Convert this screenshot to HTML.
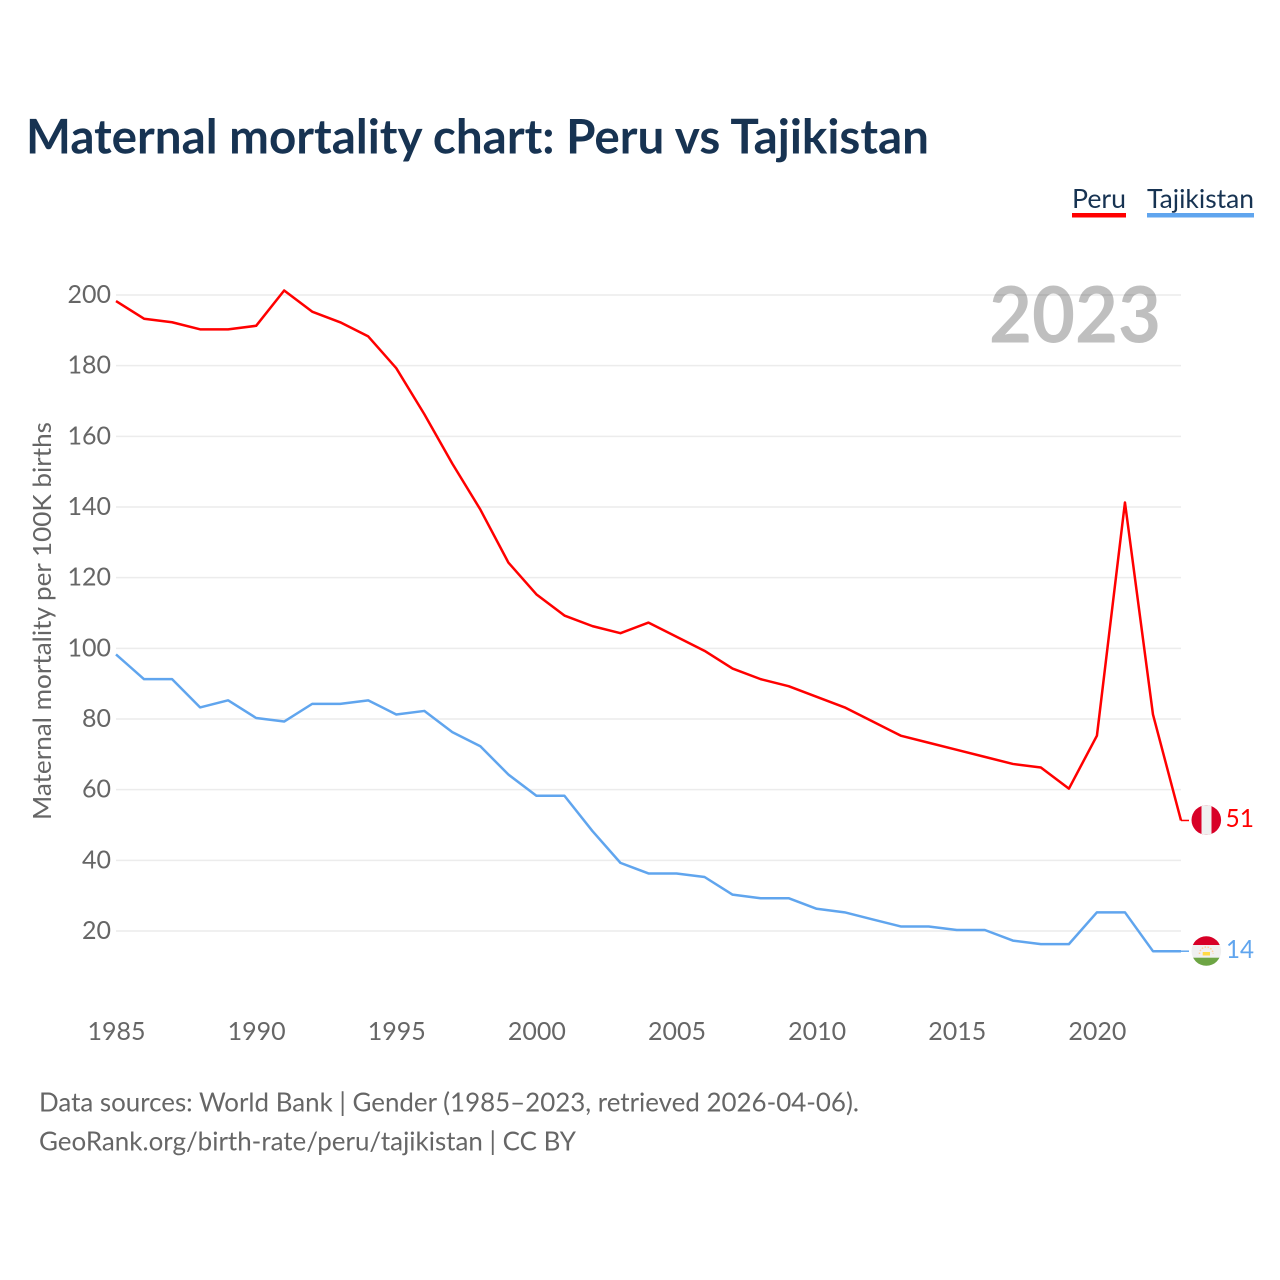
<!DOCTYPE html>
<html lang="en">
<head>
<meta charset="utf-8">
<title>Maternal mortality chart: Peru vs Tajikistan</title>
<style>
html,body{margin:0;padding:0;background:#fff;width:1280px;height:1280px;overflow:hidden}
svg{display:block}
text{font-family:"Lato","Carlito","Liberation Sans",sans-serif}
</style>
</head>
<body>
<svg id="chart" xmlns="http://www.w3.org/2000/svg" width="1280" height="1280" viewBox="0 0 1280 1280">
  <text x="26" y="153.7" font-size="47.5" font-weight="700" fill="#173352" textLength="903" lengthAdjust="spacingAndGlyphs">Maternal mortality chart: Peru vs Tajikistan</text>

  <text x="1072" y="208" font-size="26" fill="#173352" textLength="54" lengthAdjust="spacingAndGlyphs">Peru</text>
  <rect x="1072" y="213" width="54" height="4.5" fill="#ff0000"/>
  <text x="1147" y="208" font-size="26" fill="#173352" textLength="107" lengthAdjust="spacingAndGlyphs">Tajikistan</text>
  <rect x="1147" y="213" width="107" height="4.5" fill="#60a5ee"/>

  <g id="grid"></g>
  <text x="1161" y="342.5" font-size="78" font-weight="700" fill="#000000" fill-opacity="0.25" text-anchor="end" textLength="172" lengthAdjust="spacingAndGlyphs">2023</text>
  <g id="yticks"></g>
  <g id="xticks"></g>
  <text transform="translate(51 621) rotate(-90)" font-size="25.5" fill="#666666" text-anchor="middle" textLength="398" lengthAdjust="spacingAndGlyphs">Maternal mortality per 100K births</text>
  <g id="series"></g>

  <defs>
    <clipPath id="clip-peru"><circle cx="1206.3" cy="820" r="14.8"/></clipPath>
    <clipPath id="clip-tjk"><circle cx="1206.3" cy="951" r="14.8"/></clipPath>
  </defs>
  <g clip-path="url(#clip-peru)">
    <rect x="1191" y="805" width="31" height="30" fill="#d80027"/>
    <rect x="1201.5" y="805" width="10" height="30" fill="#f0f0f0"/>
  </g>
  <g clip-path="url(#clip-tjk)">
    <rect x="1191" y="936" width="31" height="30" fill="#f0f0f0"/>
    <rect x="1191" y="936" width="31" height="9" fill="#d80027"/>
    <rect x="1191" y="957.7" width="31" height="9" fill="#6da544"/>
    <rect x="1202.7" y="952" width="7.3" height="3.5" fill="#ffda44"/>
    <path d="M1199.5 954a6.8 7 0 0 1 13.6 0" fill="none" stroke="#ffcf9a" stroke-width="1.5" stroke-dasharray="1.5 1.5"/>
  </g>
  <text x="1225.5" y="827" font-size="25.5" fill="#ff0000" textLength="28.5" lengthAdjust="spacingAndGlyphs">51</text>
  <text x="1226" y="958" font-size="25.5" fill="#60a5ee" textLength="28" lengthAdjust="spacingAndGlyphs">14</text>

  <text x="39" y="1111.6" font-size="26.5" fill="#666666" textLength="820" lengthAdjust="spacingAndGlyphs">Data sources: World Bank | Gender (1985–2023, retrieved 2026-04-06).</text>
  <text x="39" y="1150.6" font-size="26.5" fill="#666666" textLength="537" lengthAdjust="spacingAndGlyphs">GeoRank.org/birth-rate/peru/tajikistan | CC BY</text>
</svg>
<script>
const years = [1985,1986,1987,1988,1989,1990,1991,1992,1993,1994,1995,1996,1997,1998,1999,2000,2001,2002,2003,2004,2005,2006,2007,2008,2009,2010,2011,2012,2013,2014,2015,2016,2017,2018,2019,2020,2021,2022,2023];
const peruValues = [198,193,192,190,190,191,201,195,192,188,179,166,152,139,124,115,109,106,104,107,103,99,94,91,89,86,83,79,75,73,71,69,67,66,60,75,141,81,51];
const tajikistanValues = [98,91,91,83,85,80,79,84,84,85,81,82,76,72,64,58,58,48,39,36,36,35,30,29,29,26,25,23,21,21,20,20,17,16,16,25,25,14,14];
const yTickValues = [20,40,60,80,100,120,140,160,180,200];
const xTickValues = [1985,1990,1995,2000,2005,2010,2015,2020];

const NS = 'http://www.w3.org/2000/svg';
function xScale(year) { return 116 + (year - 1985) * (1181 - 116) / 38; }
function yScale(value) { return 931 - (value - 20) * (931 - 295) / 180; }
function make(tag, attrs, parent) {
  const el = document.createElementNS(NS, tag);
  for (const k in attrs) el.setAttribute(k, attrs[k]);
  parent.appendChild(el);
  return el;
}
const grid = document.getElementById('grid');
const yticks = document.getElementById('yticks');
const xticks = document.getElementById('xticks');
const series = document.getElementById('series');

yTickValues.forEach(function (v) {
  const line = make('line', {x1: 116, x2: 1181, y1: yScale(v), y2: yScale(v), stroke: '#ececec', 'stroke-width': 1.5}, grid);
  
  
  const label = make('text', {x: 111, y: yScale(v) + 8, 'font-size': 25, fill: '#666666', 'text-anchor': 'end'}, yticks);
  
  
  label.textContent = v;
});
xTickValues.forEach(function (y) {
  const label = make('text', {x: xScale(y) + 0.5, y: 1040, 'font-size': 25, fill: '#666666', 'text-anchor': 'middle'}, xticks);
  
  
  label.textContent = y;
});
function drawSeries(values, color, name) {
  const pts = values.map(function (v, i) { return xScale(years[i]).toFixed(2) + ',' + (yScale(v) - 1).toFixed(2); }).join(' ');
  const line = make('polyline', {points: pts, fill: 'none', stroke: color, 'stroke-width': 2.5, 'stroke-linejoin': 'round'}, series);
  
  
  const last = values[values.length - 1];
  const lastX = xScale(years[years.length - 1]);
  const conn = make('line', {x1: lastX, y1: yScale(last) - 1, x2: lastX + 8, y2: yScale(last) - 1, stroke: color, 'stroke-width': 1.5}, series);
  
  
}
drawSeries(peruValues, '#ff0000', 'peru');
drawSeries(tajikistanValues, '#60a5ee', 'tajikistan');
</script>
</body>
</html>
